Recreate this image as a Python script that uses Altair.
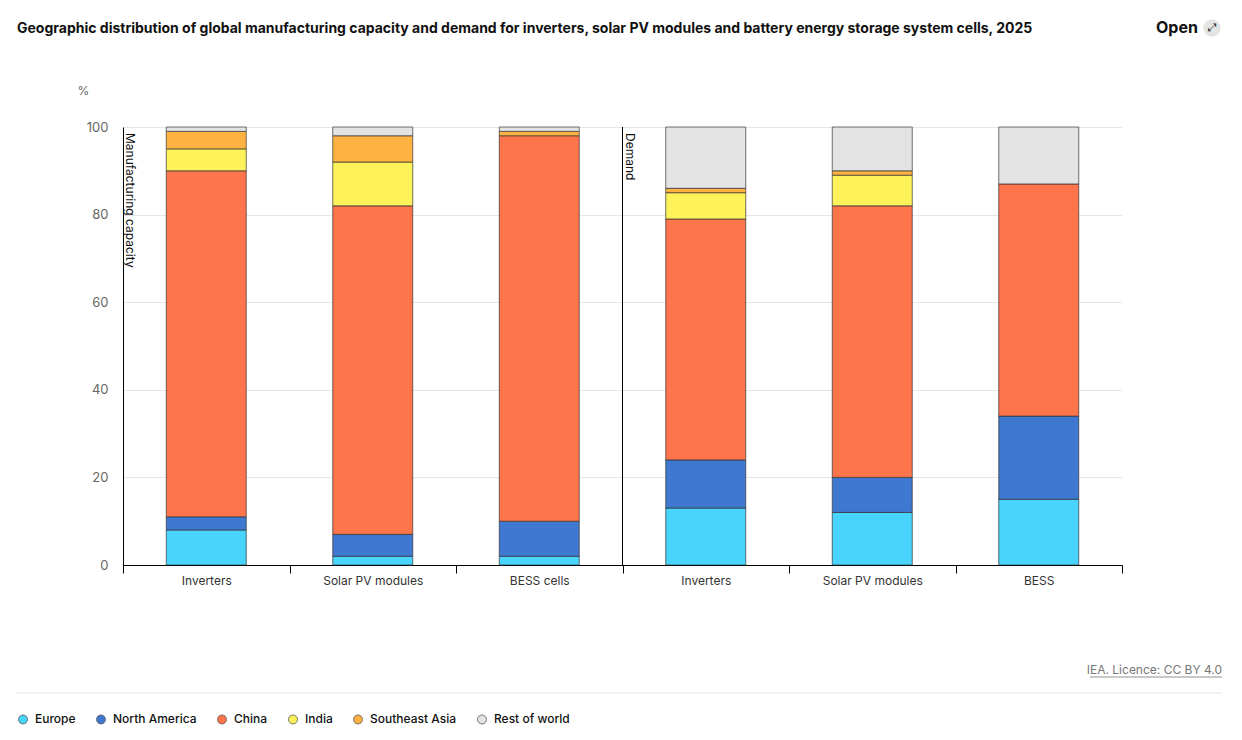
import altair as alt
import pandas as pd

regions = ["Europe", "North America", "China", "India", "Southeast Asia", "Rest of world"]
colors = ["#48d4fc", "#3e78d0", "#fe744b", "#fef25a", "#fdb242", "#e3e3e3"]
groups = ["Manufacturing capacity"] * 3 + ["Demand"] * 3
categories = ["Inverters", "Solar PV modules", "BESS cells", "Inverters", "Solar PV modules", "BESS"]
europe = [8, 2, 2, 13, 12, 15]
north_america = [3, 5, 8, 11, 8, 19]
china = [79, 75, 88, 55, 62, 53]
india = [5, 10, 0, 6, 7, 0]
southeast_asia = [4, 6, 1, 1, 1, 0]
rest_of_world = [1, 2, 1, 14, 10, 13]
y_ticks = [0, 20, 40, 60, 80, 100]

series = [europe, north_america, china, india, southeast_asia, rest_of_world]
keys = [f"{g}|{c}" for g, c in zip(groups, categories)]
rows = []
for ri, (reg, vals) in enumerate(zip(regions, series)):
    for k, v in zip(keys, vals):
        if v > 0:
            rows.append({"key": k, "region": reg, "idx": ri, "value": v})
df = pd.DataFrame(rows)

FONT = "Inter"
W, H = 999, 438

bars = alt.Chart(df).mark_bar(width=80, stroke="#333333", strokeWidth=1, strokeOpacity=0.7).encode(
    x=alt.X("key:N", sort=keys,
            scale=alt.Scale(paddingInner=0, paddingOuter=0),
            axis=alt.Axis(title=None, labelExpr="split(datum.value, '|')[1]",
                          tickBand="extent", domainColor="#000000", tickColor="#000000",
                          tickSize=8, labelAngle=0, labelPadding=2, labelColor="#333333",
                          labelFontSize=12, labelFont=FONT, grid=False)),
    y=alt.Y("value:Q", stack="zero",
            scale=alt.Scale(domain=[0, 100], nice=False),
            axis=alt.Axis(values=y_ticks, title="%", titleAngle=0, titleX=-46, titleY=-37,
                          titleAlign="left", titleBaseline="middle", titleFont=FONT,
                          titleFontSize=12, titleFontWeight="normal", titleColor="#666666",
                          grid=True, gridColor="#e6e6e6", domainColor="#000000", ticks=False,
                          labelPadding=15, labelColor="#666666", labelFontSize=13,
                          labelFont=FONT)),
    color=alt.Color("region:N", scale=alt.Scale(domain=regions, range=colors),
                    legend=alt.Legend(title=None, orient="none", legendX=-106, legendY=586,
                                      direction="horizontal", symbolType="circle",
                                      symbolSize=80, symbolStrokeColor="#555555",
                                      symbolStrokeWidth=0.8, labelFont=FONT,
                                      labelFontSize=12, labelFontWeight=500,
                                      labelColor="#111111", columnPadding=18,
                                      labelOffset=6)),
    order=alt.Order("idx:Q", sort="ascending"),
)

one = pd.DataFrame({"a": [0]})
base = alt.Chart(one)

sep = base.mark_rule(color="#000000", strokeWidth=1).encode(
    x=alt.value(W / 2), y=alt.value(0), y2=alt.value(H))

panel1 = base.mark_text(angle=90, align="left", baseline="alphabetic", font=FONT,
                        fontSize=12, color="#111111").encode(
    x=alt.value(3), y=alt.value(6), text=alt.value("Manufacturing capacity"))
panel2 = base.mark_text(angle=90, align="left", baseline="alphabetic", font=FONT,
                        fontSize=12, color="#111111").encode(
    x=alt.value(W / 2 + 3), y=alt.value(6), text=alt.value("Demand"))

title = base.mark_text(align="left", baseline="middle", font=FONT, fontSize=14,
                       fontWeight="bold", color="#111111").encode(
    x=alt.value(17 - 123), y=alt.value(29 - 127),
    text=alt.value("Geographic distribution of global manufacturing capacity and demand for inverters, solar PV modules and battery energy storage system cells, 2025"))

open_txt = base.mark_text(align="left", baseline="middle", font=FONT, fontSize=16,
                          fontWeight="bold", color="#111111").encode(
    x=alt.value(1156 - 123), y=alt.value(28 - 127), text=alt.value("Open"))
open_circle = base.mark_point(filled=True, shape="circle", size=300, color="#e4e4e4",
                              opacity=1).encode(
    x=alt.value(1212 - 123), y=alt.value(28 - 127))
open_arrow = base.mark_text(align="center", baseline="middle", font="DejaVu Sans",
                            fontSize=11, color="#222222").encode(
    x=alt.value(1212 - 123), y=alt.value(28 - 127), text=alt.value("⤢"))

credit = base.mark_text(align="right", baseline="middle", font=FONT, fontSize=12,
                        color="#777777").encode(
    x=alt.value(1222 - 123), y=alt.value(670 - 127), text=alt.value("IEA. Licence: CC BY 4.0"))
credit_line = base.mark_rule(color="#777777", strokeWidth=0.8).encode(
    x=alt.value(1090 - 123), x2=alt.value(1222 - 123), y=alt.value(677 - 127))

hline = base.mark_rule(color="#e6e6e6", strokeWidth=1).encode(
    x=alt.value(17 - 123), x2=alt.value(1222 - 123), y=alt.value(693 - 127))

chart = alt.layer(bars, sep, panel1, panel2, title, open_circle, open_txt, open_arrow,
                  credit, credit_line, hline).properties(
    width=W, height=H,
    autosize=alt.AutoSizeParams(type="none"),
    padding={"left": 123, "top": 127, "right": 120, "bottom": 175},
    background="#ffffff",
).configure_view(stroke="transparent")

chart.save("out.html", embed_options={"renderer": "svg", "actions": False})
